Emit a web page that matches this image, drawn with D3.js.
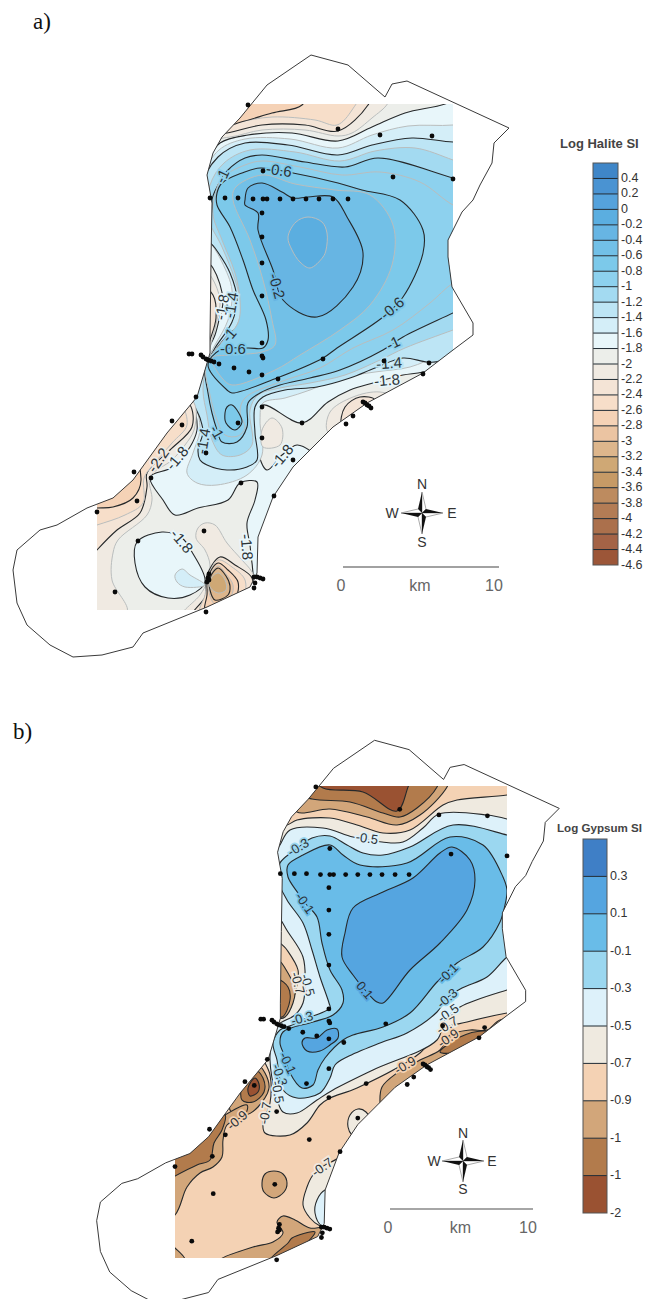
<!DOCTYPE html>
<html>
<head>
<meta charset="utf-8">
<script src="https://cdn.jsdelivr.net/npm/d3@7"></script>
<style>
  html, body { margin: 0; padding: 0; background: #fff; }
  svg { display: block; }
</style>
</head>
<body>
<svg id="chart" width="648" height="1299"></svg>
<script>
// legend values, top to bottom
const haliteLevels = [0.4, 0.2, 0, -0.2, -0.4, -0.6, -0.8, -1, -1.2, -1.4, -1.6, -1.8, -2, -2.2, -2.4, -2.6, -2.8, -3, -3.2, -3.4, -3.6, -3.8, -4, -4.2, -4.4, -4.6];
const haliteTicks = ["0.4", "0.2", "0", "-0.2", "-0.4", "-0.6", "-0.8", "-1", "-1.2", "-1.4", "-1.6", "-1.8", "-2", "-2.2", "-2.4", "-2.6", "-2.8", "-3", "-3.2", "-3.4", "-3.6", "-3.8", "-4", "-4.2", "-4.4", "-4.6"];
const haliteColors = ["#3f86c8", "#4a93d2", "#55a2dc", "#5baee0", "#67b5e3", "#72c0e7", "#7cc9ea", "#8dd1ee", "#a3daf1", "#bde5f5", "#d4eef8", "#e8f6fa", "#eceeea", "#f0eae2", "#f4e4d6", "#f7dec9", "#f5d2b6", "#ebc4a2", "#ddb68c", "#cfa875", "#c69a66", "#bd8b5f", "#b37c55", "#ab704c", "#a46346", "#9c5638"];
const gypsumLevels = [0.3, 0.1, -0.1, -0.3, -0.5, -0.7, -0.9, -1.1, -1.3, -1.5];
const gypsumTicks = ["0.3", "0.1", "-0.1", "-0.3", "-0.5", "-0.7", "-0.9", "-1", "-1", "-2"];
const gypsumColors = ["#3f7fc6", "#55a5e0", "#69bce8", "#9bd7f0", "#ddf1fa", "#efeae0", "#f4d2b4", "#d2a67a", "#b27b4c", "#9a5232"];

// lake shore, digitised in the units of map a)
const shoreline = [[311,55],[348,65],[385,97],[392,84],[407,81],[509,128],[494,143],[492,163],[480,185],[473,200],[462,212],[448,240],[448,257],[452,287],[473,323],[473,335],[453,350],[423,373],[367,403],[333,427],[317,443],[293,467],[273,497],[258,537],[257,573],[250,587],[207,607],[143,633],[133,647],[102,655],[73,657],[50,645],[27,625],[17,603],[13,570],[17,550],[40,530],[57,525],[87,508],[113,498],[133,480],[167,433],[197,397],[210,353],[210,337],[211,260],[212,203],[207,175],[213,153],[222,137],[240,118],[267,85]];

// sampling wells, same units
const wells = [[248,105],[338,129],[380,135],[432,136],[263,171],[393,177],[453,179],[210,198],[225,198],[238,198],[253,199],[263,199],[267,199],[280,199],[293,199],[306,199],[319,199],[333,199],[348,199],[262,213],[262,237],[262,263],[262,296],[262,343],[262,356],[263,358],[219,364],[234,368],[249,372],[262,375],[278,379],[323,359],[384,361],[429,363],[423,374],[196,397],[262,407],[172,421],[182,425],[238,423],[302,423],[353,416],[346,424],[262,438],[206,453],[293,460],[134,472],[151,478],[241,483],[274,496],[137,501],[97,512],[204,531],[138,541],[115,592],[206,612],[209,574],[207,582],[208,578],[209,580],[255,583],[254,588],[189,354],[192,354],[201,355],[203,357],[206,359],[208,360],[211,361],[214,362],[363,402],[365,403],[367,405],[369,406],[371,408],[254,577],[257,577],[260,578],[263,579]];

const hUp18 = [[470,92],[445,104],[405,113],[372,127],[338,141],[292,133],[248,135],[220,143],[205,165],[195,200],[195,250],[213,268],[223,300],[219,320],[215,335],[208,350],[204,364],[198,385],[195,402],[197,430],[190,447],[173,467],[150,477],[163,500],[175,515],[198,508],[228,500],[240,483],[257,482],[255,500],[247,523],[250,545],[252,563],[256,580],[290,560],[330,470],[312,452],[297,445],[282,455],[267,470],[258,452],[256,420],[263,405],[302,423],[328,402],[350,390],[373,383],[403,375],[423,372],[480,355],[490,92]];
const hUp18b = [[137,542],[162,532],[182,538],[192,552],[205,582],[190,595],[168,598],[145,587],[135,563]];
const hUp16 = [[480,120],[453,125],[408,126],[372,135],[338,148],[290,139],[245,139],[219,150],[203,175],[195,205],[205,232],[222,262],[232,290],[228,320],[215,345],[206,362],[198,385],[196,400],[200,430],[193,453],[187,473],[197,483],[217,485],[247,475],[262,455],[260,420],[263,403],[285,398],[310,390],[340,378],[375,372],[410,367],[440,355],[480,340]];
const hUp16b = [[175,575],[182,569],[190,575],[205,585],[185,587],[177,582]];
const hUp14 = [[480,140],[453,142],[412,138],[372,145],[338,155],[288,145],[245,143],[218,157],[200,190],[200,230],[215,248],[230,273],[237,300],[232,322],[215,348],[207,363],[198,385],[193,400],[200,418],[203,432],[198,450],[200,460],[207,465],[227,470],[247,467],[257,460],[255,433],[255,407],[263,397],[285,390],[317,387],[350,378],[375,368],[403,358],[427,362],[440,361],[480,335]];
const hUp12 = [[480,170],[453,160],[415,148],[375,151],[340,161],[295,152],[250,150],[224,163],[210,185],[207,215],[222,247],[235,280],[241,305],[237,325],[215,350],[207,365],[203,390],[207,415],[212,440],[222,455],[240,455],[252,445],[250,410],[258,395],[280,388],[310,383],[345,375],[380,360],[405,348],[453,330],[480,320]];
const hUp10 = [[480,185],[453,178],[378,158],[345,167],[305,162],[262,155],[245,158],[228,170],[218,185],[212,200],[215,218],[230,247],[240,273],[245,300],[242,323],[230,333],[214,352],[205,365],[208,393],[212,413],[217,430],[222,442],[237,442],[247,427],[248,403],[260,393],[280,385],[310,378],[340,370],[383,350],[403,337],[453,313],[480,300]];
const hUp08 = [[480,215],[453,205],[420,182],[380,172],[342,175],[300,167],[262,161],[245,165],[222,178],[215,195],[213,215],[222,240],[235,273],[240,300],[238,323],[222,342],[206,365],[210,395],[217,420],[225,435],[238,436],[245,428],[240,412],[245,398],[280,382],[320,368],[353,348],[393,330],[430,303],[453,283],[480,270]];
const hUp06 = [[217,193],[222,183],[242,173],[260,168],[293,173],[338,183],[362,190],[400,200],[423,230],[423,253],[403,297],[383,317],[337,348],[323,358],[277,378],[232,393],[227,390],[208,365],[220,350],[248,348],[263,348],[268,340],[266,320],[253,290],[243,260],[230,227],[217,205]];
const hUp06b = [[227,407],[232,405],[242,422],[235,430],[226,423],[225,413]];
const hUp04 = [[233,200],[250,240],[263,280],[272,320],[275,345],[262,352],[230,355],[212,358],[222,378],[232,385],[275,370],[300,355],[340,330],[370,305],[392,265],[393,225],[370,195],[335,190],[295,184],[262,175],[235,188]];
const hUp02 = [[245,200],[248,188],[262,183],[282,192],[293,198],[308,197],[333,197],[347,217],[363,253],[353,287],[317,317],[283,300],[273,270],[258,230],[258,213],[245,205]];
const hUp00 = [[288,237],[296,222],[308,217],[322,222],[327,233],[326,250],[323,257],[310,268],[300,262],[292,250]];
const hDown20a = [[205,137],[230,137],[262,130],[305,130],[338,136],[352,133],[372,118],[388,103],[392,85],[205,85]];
const hDown20b = [[80,620],[127,612],[112,580],[113,553],[118,540],[147,515],[152,500],[150,477],[172,460],[185,445],[194,430],[195,405],[185,395],[140,440],[80,480]];
const hDown20c = [[328,432],[330,412],[353,397],[380,392],[400,400],[360,430]];
const hDown20d = [[262,430],[272,418],[282,428],[280,445],[263,447]];
const hDown20e = [[198,528],[205,523],[215,525],[227,543],[242,560],[252,572],[258,590],[215,625],[180,618],[200,595],[207,582],[210,565],[205,550],[196,538]];
const hDown20f = [[200,265],[212,278],[220,300],[217,320],[212,340],[206,358],[195,350]];
const hDown22a = [[205,135],[227,133],[262,125],[305,125],[338,131],[368,105],[375,85],[205,85]];
const hDown22b = [[80,570],[97,550],[117,530],[140,513],[147,487],[147,473],[170,450],[192,427],[190,405],[180,400],[130,450],[80,480]];
const hDown22c = [[342,425],[345,407],[360,397],[375,400],[365,420]];
const hDown22d = [[207,575],[220,557],[235,565],[252,578],[250,595],[215,620],[190,618],[205,597],[206,585]];
const hDown22e = [[200,285],[213,295],[216,318],[210,340],[205,355],[195,345]];
const hDown24a = [[215,128],[235,123],[272,117],[315,120],[337,125],[352,110],[358,95],[215,85]];
const hDown24b = [[80,530],[97,525],[125,515],[143,503],[144,478],[153,465],[172,443],[187,425],[180,405],[130,450],[80,480]];
const hDown24c = [[208,577],[218,560],[232,567],[245,580],[243,597],[220,612],[200,612],[205,595]];
const hDown26a = [[225,125],[241,122],[272,113],[302,105],[310,85],[225,85]];
const hDown26b = [[80,510],[97,508],[113,507],[133,498],[141,480],[130,450],[80,480]];
const hDown26c = [[208,577],[218,563],[228,570],[238,582],[236,597],[228,603],[218,615],[205,612],[207,595]];
const hDown28 = [[209,578],[218,566],[226,574],[233,585],[231,596],[215,604],[209,592]];
const hDown30 = [[210,578],[218,568],[226,576],[230,586],[228,595],[215,600],[210,590]];
const hDown32 = [[210,580],[218,573],[225,580],[226,590],[218,593],[210,587]];

const haliteAreas = [
  ["up", -1.8, hUp18], ["up", -1.8, hUp18b], ["up", -1.6, hUp16], ["up", -1.6, hUp16b],
  ["up", -1.4, hUp14], ["up", -1.2, hUp12], ["up", -1, hUp10], ["up", -0.8, hUp08],
  ["up", -0.6, hUp06], ["up", -0.6, hUp06b], ["up", -0.4, hUp04], ["up", -0.2, hUp02], ["up", 0, hUp00],
  ["down", -2, hDown20a], ["down", -2, hDown20b], ["down", -2, hDown20c], ["down", -2, hDown20d], ["down", -2, hDown20e], ["down", -2, hDown20f],
  ["down", -2.2, hDown22a], ["down", -2.2, hDown22b], ["down", -2.2, hDown22c], ["down", -2.2, hDown22d], ["down", -2.2, hDown22e],
  ["down", -2.4, hDown24a], ["down", -2.4, hDown24b], ["down", -2.4, hDown24c],
  ["down", -2.6, hDown26a], ["down", -2.6, hDown26b], ["down", -2.6, hDown26c],
  ["down", -2.8, hDown28], ["down", -3, hDown30], ["down", -3.2, hDown32]
];

// text, level, easting, northing, rotation
const haliteLabels = [
  ["-0.6", -0.6, 279, 170, 8], ["-1", -1, 222, 176, -65], ["-0.2", -0.2, 277, 286, 75], ["-0.6", -0.6, 392, 308, -40],
  ["-1", -1, 393, 343, -25], ["-1.4", -1.4, 389, 363, -4], ["-1.8", -1.8, 387, 380, -5], ["-0.6", -0.6, 233, 349, 0],
  ["-1.8", -1.8, 222, 307, -80], ["-1.4", -1.4, 231, 305, -80], ["-1", -1, 229, 335, -50], ["-1", -1, 217, 432, 60],
  ["-1.4", -1.4, 203, 441, -80], ["-2.2", -2.2, 158, 460, -55], ["-1.8", -1.8, 177, 458, -50], ["-1.8", -1.8, 282, 456, -50],
  ["-1.8", -1.8, 182, 541, 50], ["-1.8", -1.8, 247, 547, 85]
];

// gypsum SI contours, digitised from map b)
const gUp07 = [[287,825],[297,820],[330,818],[357,825],[383,833],[410,830],[443,805],[457,800],[507,795],[530,790],[530,1010],[507,1013],[467,1022],[440,1030],[420,1053],[357,1088],[330,1098],[320,1105],[307,1123],[290,1135],[265,1133],[263,1123],[270,1103],[270,1075],[262,1055],[262,1030],[285,1015],[293,1000],[297,985],[298,970],[287,950],[270,930],[270,825]];
const gUp07b = [[345,1150],[338,1158],[322,1167],[313,1175],[307,1187],[303,1205],[310,1218],[320,1226],[345,1230],[360,1170]];
const gUp07c = [[348,1127],[350,1115],[358,1109],[366,1112],[372,1125],[358,1138],[352,1135]];
const gUp05 = [[280,845],[290,830],[323,828],[353,837],[382,842],[403,842],[423,828],[439,814],[487,815],[507,819],[525,825],[525,985],[507,990],[460,1007],[445,1020],[437,1040],[373,1070],[333,1090],[317,1100],[297,1113],[283,1112],[276,1095],[270,1060],[272,1040],[278,1025],[295,1015],[303,1003],[305,985],[303,957],[285,927],[272,900],[272,860]];
const gUp05b = [[325,1190],[317,1200],[315,1213],[322,1226],[340,1226],[340,1190]];
const gUp03 = [[312,838],[330,836],[347,845],[363,853],[383,855],[410,847],[453,825],[507,835],[525,840],[525,945],[507,957],[487,977],[462,988],[447,998],[437,1012],[407,1033],[380,1043],[347,1057],[335,1065],[330,1078],[320,1093],[297,1098],[283,1090],[280,1080],[277,1060],[273,1043],[280,1030],[292,1025],[302,1020],[330,1008],[329,1003],[320,977],[312,950],[303,923],[287,900],[278,880],[280,863],[295,850]];
const gUp01 = [[288,865],[303,855],[330,845],[343,855],[360,865],[407,863],[450,837],[483,845],[503,877],[507,890],[505,905],[500,922],[483,947],[457,963],[437,982],[410,1013],[383,1027],[353,1035],[343,1040],[325,1058],[318,1070],[313,1085],[302,1088],[290,1073],[285,1057],[280,1043],[283,1032],[313,1022],[333,1015],[343,1003],[342,990],[330,970],[322,943],[317,917],[305,903],[298,893],[288,877]];
const gUpP1 = [[452,847],[470,860],[475,880],[467,910],[440,943],[410,970],[383,1003],[377,1002],[365,990],[353,975],[342,957],[345,933],[353,908],[383,892],[413,878],[440,853]];
const gUpP1b = [[302,1043],[305,1038],[317,1038],[327,1030],[337,1029],[338,1038],[330,1045],[320,1051],[307,1051]];
const gDown09a = [[290,795],[297,812],[330,809],[367,817],[397,825],[420,815],[447,787],[450,775],[290,775]];
const gDown09b = [[288,973],[295,990],[293,1003],[285,1017],[280,1018],[275,1000],[278,960]];
const gDown09c = [[258,1065],[265,1073],[269,1088],[258,1107],[245,1115],[230,1110],[245,1070]];
const gDown09d = [[150,1230],[175,1215],[187,1187],[200,1173],[213,1167],[222,1157],[223,1140],[227,1125],[245,1115],[247,1105],[200,1130],[150,1160]];
const gDown09e = [[274,1171],[283,1174],[287,1183],[284,1192],[274,1198],[264,1192],[262,1183],[265,1174]];
const gDown09f = [[220,1260],[253,1247],[273,1242],[283,1233],[277,1222],[283,1216],[295,1220],[310,1228],[325,1228],[325,1240],[300,1262]];
const gDown09g = [[165,1240],[175,1248],[185,1260],[165,1265]];
const gDown09h = [[380,1103],[382,1087],[397,1073],[420,1060],[440,1050],[450,1035],[470,1030],[487,1030],[500,1020],[520,1020],[440,1090],[385,1130]];
const gDown11a = [[290,790],[312,799],[350,802],[383,813],[400,817],[417,808],[437,787],[440,775],[290,775]];
const gDown11b = [[288,987],[290,1000],[282,1017],[270,1010],[278,980]];
const gDown11c = [[255,1070],[263,1078],[264,1092],[253,1102],[242,1100],[245,1075]];
const gDown11d = [[150,1190],[175,1176],[197,1165],[210,1160],[214,1143],[222,1130],[225,1115],[190,1130],[150,1150]];
const gDown11e = [[288,1243],[292,1238],[315,1232],[305,1245],[290,1258],[270,1260]];
const gDown11f = [[440,1052],[460,1037],[483,1031],[492,1033],[470,1050]];
const gDown13a = [[310,775],[323,788],[363,792],[397,811],[408,787],[412,775]];
const gDown13b = [[255,1078],[259,1084],[258,1092],[250,1096],[248,1088]];

const gypsumAreas = [
  ["up", -0.7, gUp07], ["up", -0.7, gUp07b], ["up", -0.7, gUp07c], ["up", -0.5, gUp05], ["up", -0.5, gUp05b],
  ["up", -0.3, gUp03], ["up", -0.1, gUp01], ["up", 0.1, gUpP1], ["up", 0.1, gUpP1b],
  ["down", -0.9, gDown09a], ["down", -0.9, gDown09b], ["down", -0.9, gDown09c], ["down", -0.9, gDown09d], ["down", -0.9, gDown09e], ["down", -0.9, gDown09f], ["down", -0.9, gDown09g], ["down", -0.9, gDown09h],
  ["down", -1.1, gDown11a], ["down", -1.1, gDown11b], ["down", -1.1, gDown11c], ["down", -1.1, gDown11d], ["down", -1.1, gDown11e], ["down", -1.1, gDown11f],
  ["down", -1.3, gDown13a], ["down", -1.3, gDown13b]
];

const gypsumLabels = [
  ["-0.5", -0.5, 367, 838, 8], ["-0.3", -0.3, 298, 847, -30], ["-0.1", -0.1, 305, 903, 55], ["0.1", 0.1, 365, 990, 50],
  ["-0.1", -0.1, 448, 973, -45], ["-0.3", -0.3, 447, 998, -40], ["-0.5", -0.5, 448, 1013, -35], ["-0.7", -0.7, 447, 1025, -30],
  ["-0.9", -0.9, 448, 1038, -35], ["-0.9", -0.9, 405, 1065, -30], ["-0.7", -0.7, 322, 1167, -35], ["-0.9", -0.9, 237, 1120, -40],
  ["-0.3", -0.3, 302, 1018, -15], ["-0.5", -0.5, 308, 985, 75], ["-0.7", -0.7, 298, 983, 75], ["-0.1", -0.1, 288, 1063, 65],
  ["-0.3", -0.3, 280, 1075, 70], ["-0.5", -0.5, 278, 1092, 80], ["-0.7", -0.7, 265, 1113, -80]
];

const SANS = "Liberation Sans, Arial, sans-serif";
const svg = d3.select("#chart");

/**
 * Band colour scale for a legend (levels run top to bottom).
 */
function bandScale(levels, colors) {
  let thresholds = levels.slice(0, levels.length - 1).reverse();
  return d3.scaleThreshold().domain(thresholds).range(colors.slice().reverse());
}

/**
 * Draws one map: filled contour areas, labels, shore and wells.
 */
function drawMap(p) {
  let g = svg.append("g");
  let x = d3.scaleLinear().domain(p.contourX).range(p.rangeX);
  let y = d3.scaleLinear().domain(p.contourY).range(p.rangeY);
  let shoreX = d3.scaleLinear().domain([97, 453]).range(p.rangeX);
  let shoreY = d3.scaleLinear().domain([104, 610]).range(p.rangeY);
  let color = bandScale(p.levels, p.colors);

  let shorePath = d3.line().x((d) => shoreX(d[0])).y((d) => shoreY(d[1])).curve(d3.curveLinearClosed)(shoreline);
  let area = d3.line().x((d) => x(d[0])).y((d) => y(d[1])).curve(d3.curveCatmullRomClosed.alpha(0.5));

  svg.append("clipPath").attr("id", p.id + "-rect").append("rect")
    .attr("x", p.rangeX[0]).attr("y", p.rangeY[0])
    .attr("width", p.rangeX[1] - p.rangeX[0]).attr("height", p.rangeY[1] - p.rangeY[0]);
  svg.append("clipPath").attr("id", p.id + "-shore").append("path").attr("d", shorePath);

  let inner = g.append("g").attr("clip-path", "url(#" + p.id + "-rect)")
    .append("g").attr("clip-path", "url(#" + p.id + "-shore)");

  inner.append("rect")
    .attr("x", p.rangeX[0]).attr("y", p.rangeY[0])
    .attr("width", p.rangeX[1] - p.rangeX[0]).attr("height", p.rangeY[1] - p.rangeY[0])
    .attr("fill", color(p.baseLevel));

  inner.selectAll("path.area").data(p.areas).join("path")
    .attr("class", "area")
    .attr("d", (d) => area(d[2]))
    .attr("fill", (d) => color(d[1] + (d[0] == "up" ? 0.01 : -0.01) + p.fillShift(d[1])))
    .attr("stroke", (d) => (p.isMajor(d[1]) ? "#26292b" : "#b9bdbd"))
    .attr("stroke-width", (d) => (p.isMajor(d[1]) ? 1.1 : 1));

  inner.selectAll("text").data(p.labels).join("text")
    .text((d) => d[0])
    .attr("transform", (d) => "translate(" + x(d[2]) + "," + y(d[3]) + ") rotate(" + d[4] + ")")
    .attr("text-anchor", "middle").attr("dy", "0.36em")
    .attr("font-family", SANS).attr("font-size", p.labelSize)
    .attr("fill", "#2c3338")
    .attr("stroke", (d) => color(d[1] + 0.01 + p.fillShift(d[1]))).attr("stroke-width", 3.5)
    .attr("paint-order", "stroke");

  g.append("path").attr("d", shorePath)
    .attr("fill", "none").attr("stroke", "#3a3a3a").attr("stroke-width", 1);

  g.selectAll("circle").data(wells).join("circle")
    .attr("cx", (d) => shoreX(d[0])).attr("cy", (d) => shoreY(d[1]))
    .attr("r", 2.4).attr("fill", "#0a0a0a");
}

/**
 * Draws the stacked colour legend with its ticks.
 */
function drawLegend(p) {
  let g = svg.append("g");
  let band = d3.scaleBand().domain(p.levels).range([p.top, p.bottom]);
  let tick = d3.scalePoint().domain(p.levels).range([p.top + band.bandwidth(), p.bottom]);

  g.selectAll("rect").data(p.levels).join("rect")
    .attr("x", p.left).attr("y", (d) => band(d))
    .attr("width", p.width).attr("height", band.bandwidth())
    .attr("fill", (d, i) => p.colors[i]);

  g.selectAll("line").data(p.levels.slice(0, p.levels.length - 1)).join("line")
    .attr("x1", p.left).attr("x2", p.left + p.width)
    .attr("y1", (d) => tick(d)).attr("y2", (d) => tick(d))
    .attr("stroke", "#1f2a33").attr("stroke-width", 1);

  g.append("rect")
    .attr("x", p.left).attr("y", p.top).attr("width", p.width).attr("height", p.bottom - p.top)
    .attr("fill", "none").attr("stroke", "#555").attr("stroke-width", 1);

  g.selectAll("text.tick").data(p.levels).join("text")
    .attr("class", "tick")
    .text((d, i) => p.ticks[i])
    .attr("x", p.left + p.width + 3).attr("y", (d) => tick(d) - 1)
    .attr("dy", "0.36em")
    .attr("font-family", SANS).attr("font-size", p.tickSize).attr("fill", "#333");

  g.append("text").text(p.title)
    .attr("x", p.titleX).attr("y", p.titleY)
    .attr("font-family", SANS).attr("font-size", p.titleSize).attr("font-weight", "bold").attr("fill", "#444");
}

/**
 * Draws the north arrow and the 0-10 km scale bar.
 */
function drawCompass(cx, cy, letterGap) {
  let g = svg.append("g").attr("transform", "translate(" + cx + "," + cy + ")");
  let star = [0, 90, 180, 270];
  let len = 21;
  star.forEach((a) => {
    let arm = g.append("g").attr("transform", "rotate(" + a + ")");
    arm.append("path").attr("d", "M0,0L0," + -len + "L4,-4Z").attr("fill", "#fff").attr("stroke", "#555").attr("stroke-width", 0.5);
    arm.append("path").attr("d", "M0,0L0," + -len + "L-4,-4Z").attr("fill", "#111");
  });
  let letters = [["N", 0, -letterGap], ["E", letterGap + 1, 0], ["S", 0, letterGap], ["W", -letterGap - 1, 0]];
  g.selectAll("text").data(letters).join("text")
    .text((d) => d[0]).attr("x", (d) => d[1]).attr("y", (d) => d[2])
    .attr("text-anchor", "middle").attr("dy", "0.36em")
    .attr("font-family", SANS).attr("font-size", 14).attr("fill", "#333");
}

function drawScaleBar(x0, x1, y, color, width) {
  let km = d3.scaleLinear().domain([0, 10]).range([x0, x1]);
  let g = svg.append("g");
  g.append("line").attr("x1", km(0)).attr("x2", km(10)).attr("y1", y).attr("y2", y)
    .attr("stroke", color).attr("stroke-width", width);
  g.selectAll("text").data([0, 5, 10]).join("text")
    .text((d) => (d == 5 ? "km" : d))
    .attr("x", (d) => km(d) + (d == 0 ? -2 : d == 10 ? -5 : -1)).attr("y", y + 24)
    .attr("text-anchor", "middle")
    .attr("font-family", SANS).attr("font-size", 16).attr("fill", "#666");
}

drawMap({
  id: "halite", contourX: [97, 453], contourY: [104, 610], rangeX: [97, 453], rangeY: [104, 610],
  levels: haliteLevels, colors: haliteColors, areas: haliteAreas, labels: haliteLabels,
  baseLevel: -1.9, labelSize: 15,
  // the map's blues sit one legend step paler than the level they are drawn for
  fillShift: (v) => (v >= -0.8 ? -0.2 : 0),
  isMajor: (v) => Math.abs(((v + 0.2) / 0.4) - Math.round((v + 0.2) / 0.4)) < 0.01
});
drawMap({
  id: "gypsum", contourX: [175, 507], contourY: [786, 1258], rangeX: [175, 507], rangeY: [786, 1258],
  levels: gypsumLevels, colors: gypsumColors, areas: gypsumAreas, labels: gypsumLabels,
  baseLevel: -0.8, labelSize: 13,
  fillShift: () => 0,
  isMajor: () => true
});

drawLegend({ levels: haliteLevels, ticks: haliteTicks, colors: haliteColors, top: 163, bottom: 565, left: 593, width: 25, tickSize: 12.5, title: "Log Halite SI", titleX: 560, titleY: 148, titleSize: 13 });
drawLegend({ levels: gypsumLevels, ticks: gypsumTicks, colors: gypsumColors, top: 839, bottom: 1213, left: 583, width: 24, tickSize: 12.5, title: "Log Gypsum SI", titleX: 557, titleY: 832, titleSize: 11.6 });

drawCompass(422, 513, 29);
drawCompass(463, 1161, 28);
drawScaleBar(343, 499, 567, "#444", 1.2);
drawScaleBar(390, 533, 1209, "#888", 1.6);

svg.append("text").text("a)").attr("x", 33).attr("y", 29).attr("font-family", "Liberation Serif, serif").attr("font-size", 23).attr("fill", "#111");
svg.append("text").text("b)").attr("x", 13).attr("y", 739).attr("font-family", "Liberation Serif, serif").attr("font-size", 23).attr("fill", "#111");
</script>
</body>
</html>
